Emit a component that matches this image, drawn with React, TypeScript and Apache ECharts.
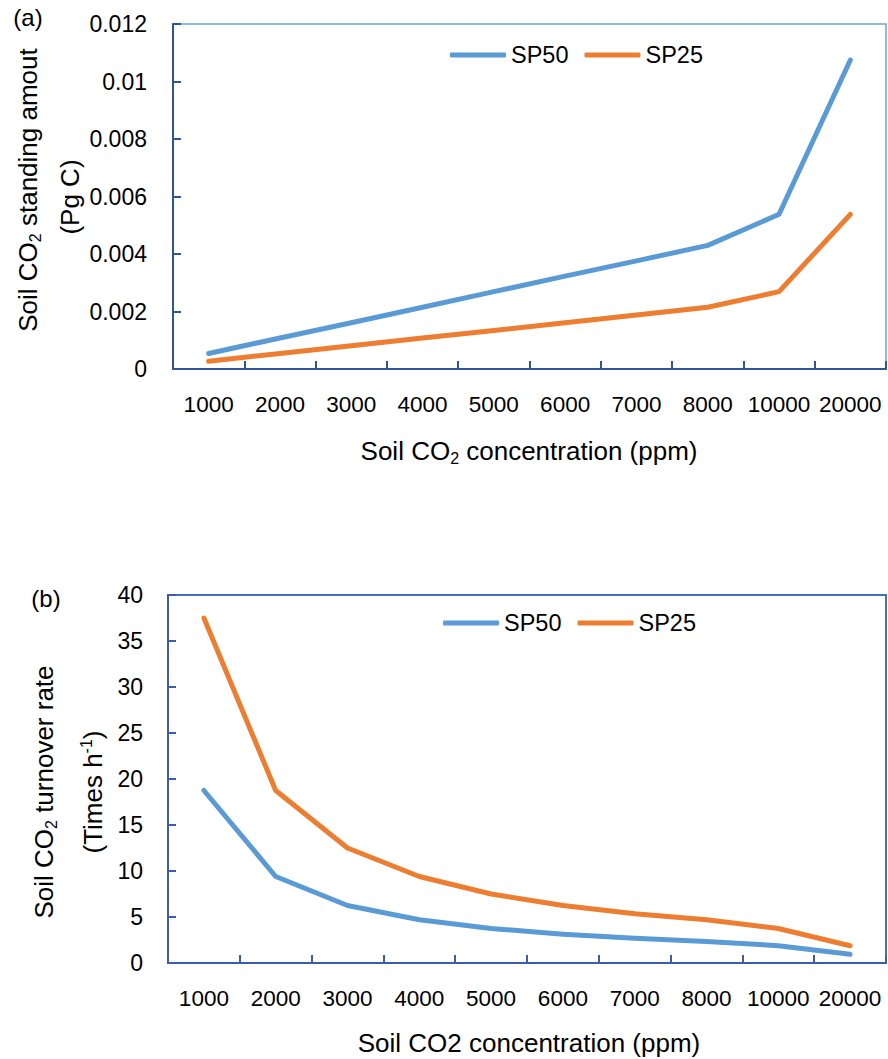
import React, { useEffect, useRef } from "react";
import * as echarts from "echarts";

const categories = ["1000", "2000", "3000", "4000", "5000", "6000", "7000", "8000", "10000", "20000"];

const standingSP50 = [0.00054, 0.00108, 0.00161, 0.00215, 0.00269, 0.00323, 0.00376, 0.0043, 0.00538, 0.01075];
const standingSP25 = [0.00027, 0.00054, 0.00081, 0.00108, 0.00134, 0.00161, 0.00188, 0.00215, 0.00269, 0.00538];

const turnoverSP50 = [18.75, 9.4, 6.25, 4.7, 3.75, 3.13, 2.68, 2.34, 1.88, 0.94];
const turnoverSP25 = [37.5, 18.75, 12.5, 9.4, 7.5, 6.25, 5.36, 4.69, 3.75, 1.88];

const seriesNames = ["SP50", "SP25"];
const BLUE = "#5b9bd5";
const ORANGE = "#ed7d31";
const FONT = "'Liberation Sans', Arial, sans-serif";

export default function App() {
  const ref = useRef<HTMLDivElement>(null);

  useEffect(() => {
    document.body.style.margin = "0";
    if (!ref.current) return;
    const chart = echarts.init(ref.current, null, { renderer: "svg" });

    const labelStyle = { color: "#000", fontSize: 22.5, fontFamily: FONT };
    const titleRich = {
      n: { fontSize: 26, fontFamily: FONT, color: "#000", lineHeight: 30 },
      sub: { fontSize: 16, fontFamily: FONT, color: "#000", lineHeight: 14, verticalAlign: "bottom" },
      sup: { fontSize: 16, fontFamily: FONT, color: "#000", lineHeight: 14, verticalAlign: "top" },
    };

    const mkText = (x: number, y: number, text: string, rotate: boolean, size = 26) => ({
      type: "text",
      x,
      y,
      rotation: rotate ? Math.PI / 2 : 0,
      style: {
        text,
        rich: titleRich,
        fontSize: size,
        fontFamily: FONT,
        fill: "#000",
        align: "center",
        verticalAlign: "middle",
      },
    });

    const xAxisBase = (gridIndex: number, axisColor: string) => ({
      type: "category",
      gridIndex,
      data: categories,
      boundaryGap: true,
      axisLine: { show: true, lineStyle: { color: axisColor, width: 2 } },
      axisTick: { show: true, inside: true, length: 8, lineStyle: { color: axisColor, width: 2 } },
      axisLabel: { ...labelStyle, margin: 24, interval: 0 },
      splitLine: { show: false },
    });

    const legendBase = (left: number, top: number) => ({
      data: seriesNames.map((n) => ({ name: n })),
      left,
      top,
      padding: 0,
      itemWidth: 56,
      itemHeight: 5,
      itemGap: 16,
      icon: "roundRect",
      textStyle: { color: "#000", fontSize: 23.5, fontFamily: FONT },
    });

    const option = {
      animation: false,
      backgroundColor: "#fff",
      grid: [
        { left: 173, top: 24, width: 713, height: 345, show: true, borderColor: "#6fa3d8", borderWidth: 1.5, backgroundColor: "transparent" },
        { left: 168, top: 595, width: 718, height: 368, show: true, borderColor: "#4a6db5", borderWidth: 2, backgroundColor: "transparent" },
      ],
      legend: [legendBase(450, 43), legendBase(443, 611)],
      xAxis: [xAxisBase(0, "#2f5597"), xAxisBase(1, "#3c5ea6")],
      yAxis: [
        {
          type: "value",
          gridIndex: 0,
          min: 0,
          max: 0.012,
          interval: 0.002,
          axisLine: { show: true, lineStyle: { color: "#2f5597", width: 2 } },
          axisTick: { show: true, inside: true, length: 8, lineStyle: { color: "#2f5597", width: 2 } },
          axisLabel: {
            ...labelStyle,
            fontSize: 23,
            margin: 26,
            formatter: (v: number) => (v === 0 ? "0" : String(parseFloat(v.toFixed(3)))),
          },
          splitLine: { show: false },
        },
        {
          type: "value",
          gridIndex: 1,
          min: 0,
          max: 40,
          interval: 5,
          axisLine: { show: true, lineStyle: { color: "#3c5ea6", width: 2 } },
          axisTick: { show: true, inside: true, length: 8, lineStyle: { color: "#3c5ea6", width: 2 } },
          axisLabel: { ...labelStyle, fontSize: 23, margin: 25 },
          splitLine: { show: false },
        },
      ],
      series: [
        {
          name: "SP50",
          type: "line",
          xAxisIndex: 0,
          yAxisIndex: 0,
          data: standingSP50,
          symbol: "none",
          color: BLUE,
          lineStyle: { color: BLUE, width: 5, cap: "round", join: "round" },
        },
        {
          name: "SP25",
          type: "line",
          xAxisIndex: 0,
          yAxisIndex: 0,
          data: standingSP25,
          symbol: "none",
          color: ORANGE,
          lineStyle: { color: ORANGE, width: 5, cap: "round", join: "round" },
        },
        {
          name: "SP50",
          type: "line",
          xAxisIndex: 1,
          yAxisIndex: 1,
          data: turnoverSP50,
          symbol: "none",
          color: BLUE,
          lineStyle: { color: BLUE, width: 5, cap: "round", join: "round" },
        },
        {
          name: "SP25",
          type: "line",
          xAxisIndex: 1,
          yAxisIndex: 1,
          data: turnoverSP25,
          symbol: "none",
          color: ORANGE,
          lineStyle: { color: ORANGE, width: 5, cap: "round", join: "round" },
        },
      ],
      graphic: [
        mkText(28, 17, "(a)", false, 24),
        mkText(46, 598, "(b)", false, 24),
        mkText(28, 190, "{n|Soil CO}{sub|2}{n| standing amout}", true),
        mkText(70, 197, "{n|(Pg C)}", true),
        mkText(529, 451, "{n|Soil CO}{sub|2}{n| concentration (ppm)}", false),
        mkText(44, 792, "{n|Soil CO}{sub|2}{n| turnover rate}", true),
        mkText(93, 792, "{n|(Times h}{sup|-1}{n|)}", true),
        mkText(529, 1043, "{n|Soil CO2 concentration (ppm)}", false),
      ],
    };

    chart.setOption(option as any);
    return () => chart.dispose();
  }, []);

  return (
    <div
      ref={ref}
      style={{ position: "absolute", left: 0, top: 0, width: 888, height: 1059 }}
    />
  );
}
